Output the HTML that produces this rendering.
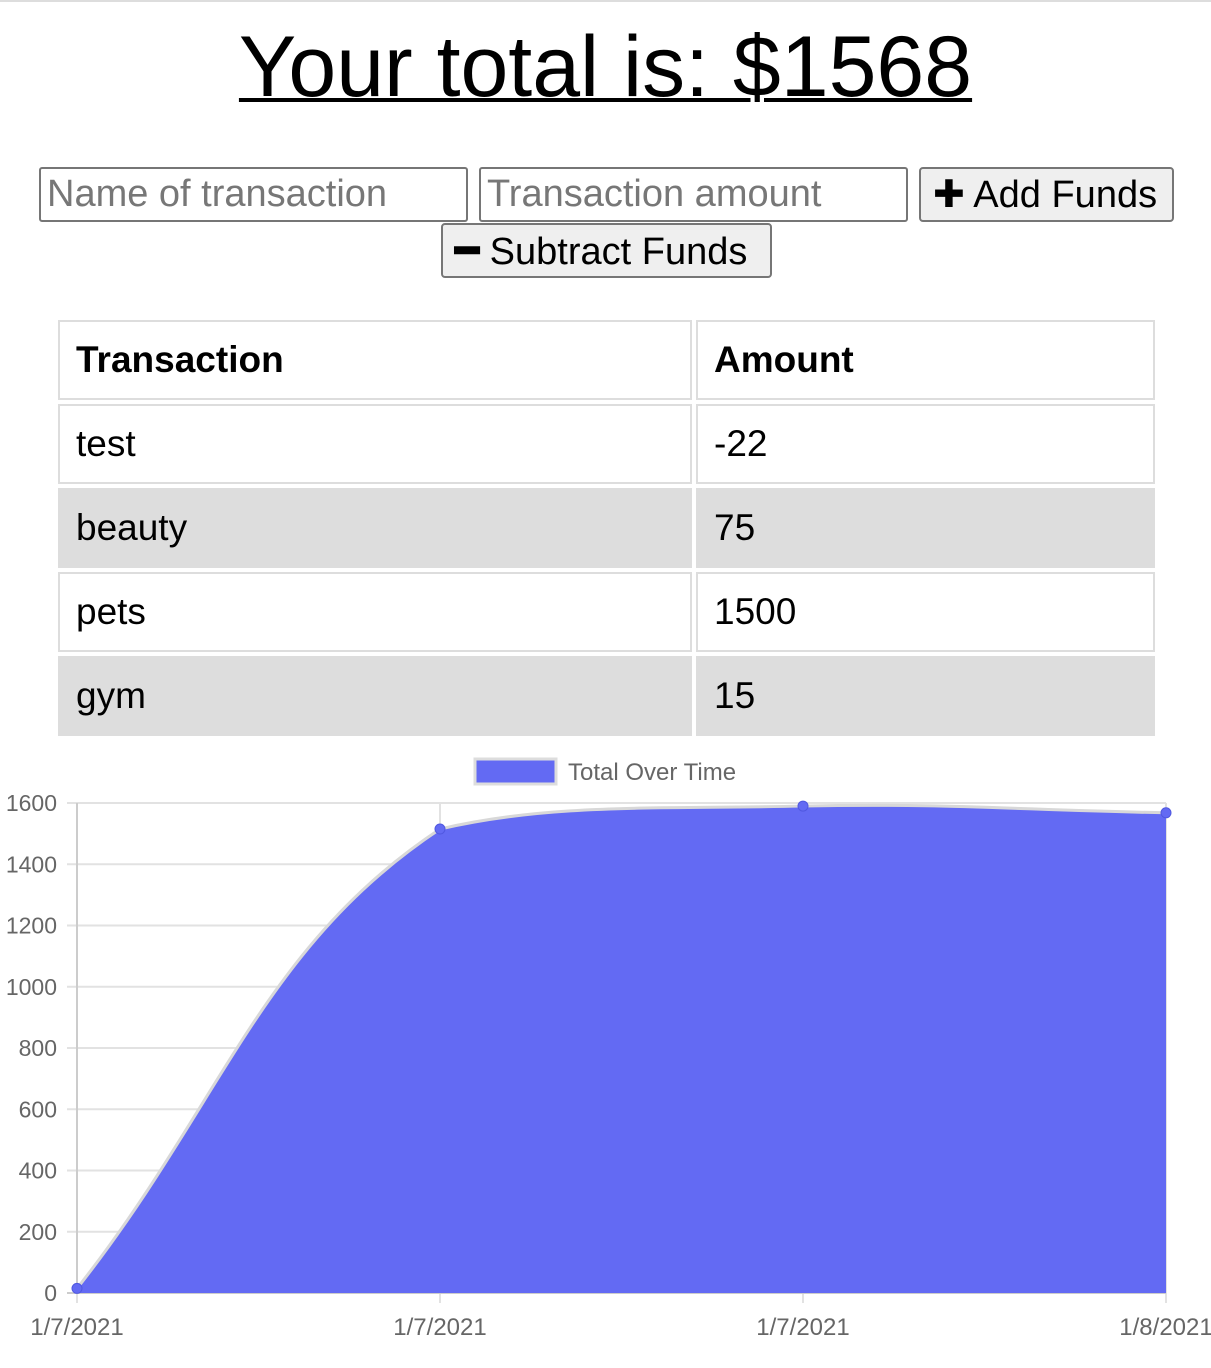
<!DOCTYPE html>
<html><head><meta charset="utf-8"><style>
body{margin:0;width:1211px;height:1368px;background:#fff;font-family:"Liberation Sans",Arial,sans-serif;position:relative;overflow:hidden}
.topline{position:absolute;left:0;top:0;width:1211px;height:2px;background:#ddd}
h1{position:absolute;left:0;top:14px;width:1211px;margin:0;text-align:center;font-weight:normal;font-size:86px;line-height:106px;text-decoration:underline;text-decoration-thickness:4px}
input{position:absolute;box-sizing:border-box;height:55px;border:2px solid #767676;border-radius:3px;font-family:inherit;font-size:38px;padding:0 6px;color:#000}
input::placeholder{color:#777}
button{position:absolute;box-sizing:border-box;height:55px;border:2px solid #767676;border-radius:4px;background:#efefef;font-family:inherit;font-size:38px;padding:0 12px;color:#000;text-align:left;white-space:nowrap}
table{position:absolute;left:54px;top:316px;border-spacing:4px;border-collapse:separate;font-size:37px}
td,th{border:2px solid #ddd;height:80px;padding:0 16px;text-align:left;box-sizing:border-box}
th{font-weight:bold}
tr.alt td{background:#ddd}
</style></head><body>
<div class="topline"></div>
<h1>Your total is: $1568</h1>
<input style="left:39px;top:167px;width:429px" placeholder="Name of transaction">
<input style="left:479px;top:167px;width:429px" placeholder="Transaction amount">
<button style="left:919px;top:167px;width:255px">✚ Add Funds</button>
<button style="left:441px;top:223px;width:331px"><b style="font-size:40px">━</b> Subtract Funds</button>
<table>
<tr><th style="width:634px">Transaction</th><th style="width:459px">Amount</th></tr>
<tr><td>test</td><td>-22</td></tr>
<tr class="alt"><td>beauty</td><td>75</td></tr>
<tr><td>pets</td><td>1500</td></tr>
<tr class="alt"><td>gym</td><td>15</td></tr>
</table>
<svg id="chart" style="position:absolute;left:0;top:740px" width="1211" height="628"></svg>
<script>
const categories=["1/7/2021","1/7/2021","1/7/2021","1/8/2021"];
const values=[15,1515,1590,1568];
const yTicks=[0,200,400,600,800,1000,1200,1400,1600];
const svg=document.getElementById('chart');
const NS='http://www.w3.org/2000/svg';
const OY=740,x0=77,x1=1166,yb=1293-OY,yt=803-OY,ymax=1600;
const X=i=>x0+(x1-x0)*i/(categories.length-1);
const Y=v=>yb-(yb-yt)*v/ymax;
function el(t,a){const e=document.createElementNS(NS,t);for(const k in a)e.setAttribute(k,a[k]);svg.appendChild(e);return e;}
yTicks.forEach(v=>{
 const l=el('line',{x1:x0-10,x2:x1,y1:Y(v),y2:Y(v),stroke:'#e2e2e2','stroke-width':2});
 
 
 const t=el('text',{x:57,y:Y(v)+8,'text-anchor':'end','font-size':23,fill:'#666','font-family':'Liberation Sans,sans-serif'});
 t.textContent=v;
 
 
});
categories.forEach((c,i)=>{
 const l=el('line',{x1:X(i),x2:X(i),y1:yt,y2:yb+10,stroke:'#e2e2e2','stroke-width':2});
 
 
 const t=el('text',{x:X(i),y:yb+42,'text-anchor':'middle','font-size':24,fill:'#666','font-family':'Liberation Sans,sans-serif'});
 t.textContent=c;
 
 
});
el('line',{x1:x0,x2:x0,y1:yt,y2:yb,stroke:'#ccc','stroke-width':2});
el('line',{x1:x0-10,x2:x1,y1:yb,y2:yb,stroke:'#ccc','stroke-width':2});
const pts=values.map((v,i)=>[X(i),Y(v)]);
const ten=0.4;
const cl=v=>Math.max(yt,Math.min(yb,v));
const cps=pts.map((p,i)=>{
 const pr=pts[Math.max(i-1,0)],nx=pts[Math.min(i+1,pts.length-1)];
 const d01=Math.hypot(p[0]-pr[0],p[1]-pr[1]),d12=Math.hypot(nx[0]-p[0],nx[1]-p[1]);
 let fa=d01/(d01+d12)||0,fb=d12/(d01+d12)||0;
 fa*=ten;fb*=ten;
 return {p:[p[0]-fa*(nx[0]-pr[0]),cl(p[1]-fa*(nx[1]-pr[1]))],n:[p[0]+fb*(nx[0]-pr[0]),cl(p[1]+fb*(nx[1]-pr[1]))]};
});
let d=`M${pts[0][0]},${pts[0][1]}`;
for(let i=1;i<pts.length;i++){
 const a=cps[i-1].n,b=cps[i].p;
 d+=` C${a[0]},${a[1]} ${b[0]},${b[1]} ${pts[i][0]},${pts[i][1]}`;
}
const area=el('path',{d:d+` L${x1},${yb} L${x0},${yb} Z`,fill:'#636af3'});


el('path',{d:d,fill:'none',stroke:'#d8d8d8','stroke-width':3});
pts.forEach(p=>{
 const c=el('circle',{cx:p[0],cy:p[1],r:5,fill:'#636af3',stroke:'#5058e0','stroke-width':1});
 
 
});
const lb=el('rect',{x:475,y:19,width:81,height:25,fill:'#636af3',stroke:'#ddd','stroke-width':3});


const lt=el('text',{x:568,y:40,'font-size':24,fill:'#666','font-family':'Liberation Sans,sans-serif'});
lt.textContent='Total Over Time';


</script>
</body></html>
